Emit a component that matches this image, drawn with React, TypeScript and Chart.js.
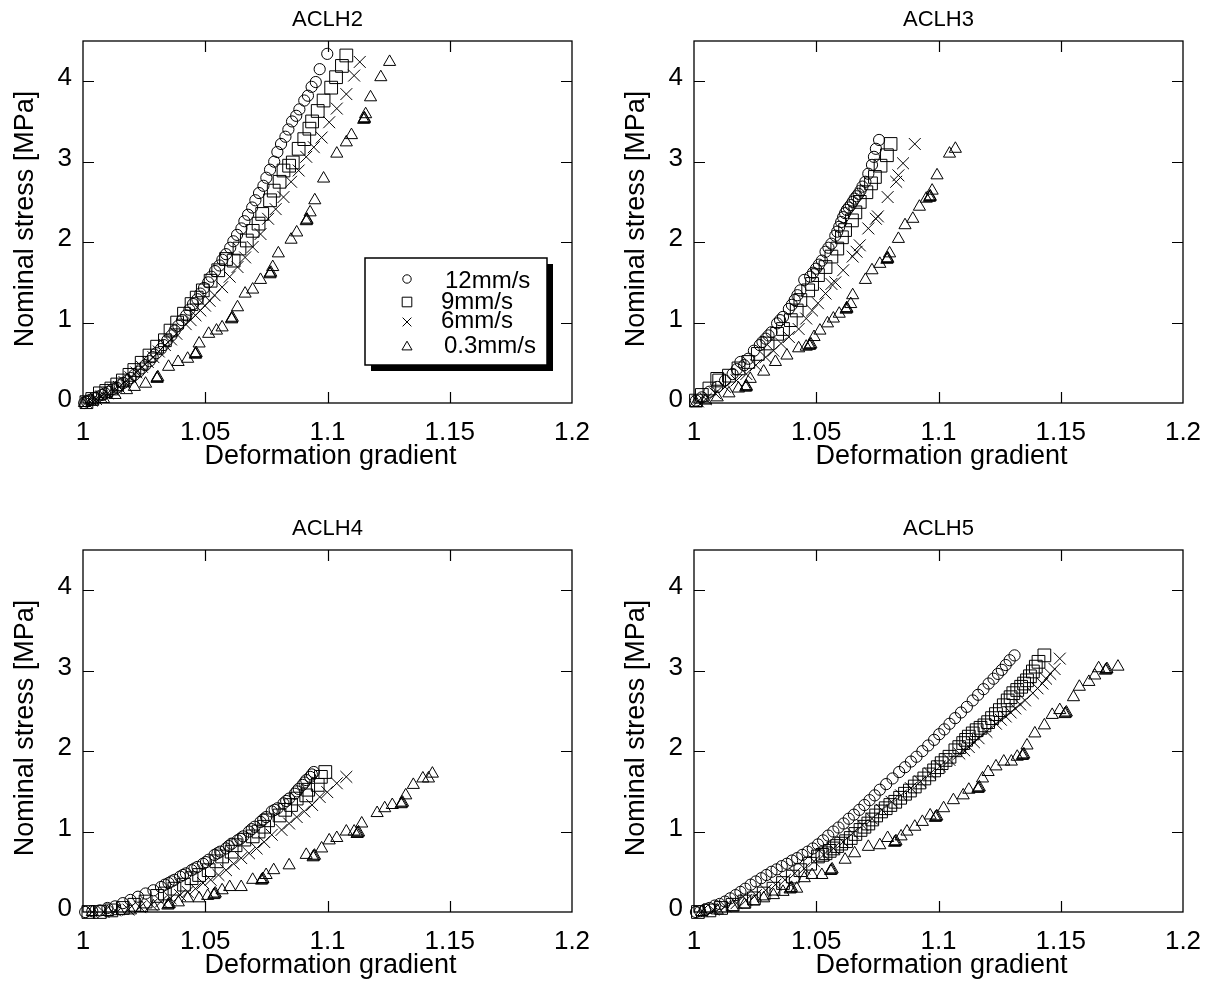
import React, { useEffect, useRef } from "react";
import { Chart, registerables } from "chart.js";

Chart.register(...registerables);

// ---------------- data ----------------
const PANEL_TITLES = ["ACLH2", "ACLH3", "ACLH4", "ACLH5"];
const SERIES_LABELS = ["12mm/s", "9mm/s", "6mm/s", "0.3mm/s"];
const X_TICKS = [1, 1.05, 1.1, 1.15, 1.2];
const Y_TICKS = [0, 1, 2, 3, 4];
const X_LABEL = "Deformation gradient";
const Y_LABEL = "Nominal stress [MPa]";

// ACLH2
const ACLH2_12 = [[1.0005,0.0],[1.0015,0.02],[1.003,0.04],[1.0045,0.06],[1.006,0.08],[1.0078,0.1],[1.009,0.12],[1.0105,0.14],[1.012,0.17],[1.0138,0.19],[1.015,0.22],[1.0165,0.25],[1.0182,0.28],[1.0195,0.31],[1.021,0.35],[1.0228,0.39],[1.024,0.43],[1.0255,0.47],[1.0272,0.52],[1.0285,0.57],[1.03,0.62],[1.0318,0.67],[1.033,0.72],[1.0345,0.78],[1.0362,0.84],[1.0375,0.9],[1.039,0.96],[1.0405,1.03],[1.0422,1.09],[1.0435,1.16],[1.045,1.23],[1.0468,1.29],[1.048,1.36],[1.0495,1.43],[1.0512,1.5],[1.0525,1.57],[1.054,1.64],[1.0558,1.71],[1.057,1.78],[1.0585,1.85],[1.0602,1.93],[1.0615,2.01],[1.063,2.09],[1.0648,2.17],[1.066,2.26],[1.0675,2.34],[1.0692,2.43],[1.0705,2.52],[1.072,2.61],[1.0738,2.7],[1.075,2.8],[1.0765,2.9],[1.0782,3.0],[1.0795,3.12],[1.081,3.22],[1.0828,3.31],[1.084,3.4],[1.0855,3.5],[1.0872,3.57],[1.0885,3.65],[1.0905,3.76],[1.092,3.82],[1.0935,3.93],[1.0952,3.99],[1.0968,4.15],[1.0999,4.34]];
const ACLH2_9 = [[1.0014,0.01],[1.0038,0.05],[1.0069,0.12],[1.0095,0.15],[1.0116,0.18],[1.014,0.23],[1.0163,0.28],[1.019,0.35],[1.021,0.41],[1.024,0.5],[1.0272,0.59],[1.0303,0.7],[1.0335,0.78],[1.0358,0.9],[1.0385,1.0],[1.0413,1.11],[1.0444,1.23],[1.0465,1.31],[1.049,1.4],[1.0522,1.52],[1.0553,1.65],[1.0585,1.79],[1.0616,1.77],[1.064,1.92],[1.067,2.02],[1.0694,2.14],[1.0718,2.23],[1.0733,2.35],[1.0765,2.52],[1.078,2.64],[1.0804,2.75],[1.082,2.89],[1.0843,2.95],[1.0858,2.99],[1.0882,3.16],[1.0905,3.28],[1.0926,3.41],[1.0937,3.5],[1.096,3.63],[1.0984,3.76],[1.1015,3.92],[1.1035,4.05],[1.1059,4.19],[1.1077,4.32]];
const ACLH2_6 = [[1.0014,0.01],[1.0035,0.03],[1.0053,0.05],[1.0075,0.08],[1.01,0.12],[1.0125,0.16],[1.0147,0.2],[1.017,0.26],[1.0194,0.32],[1.0218,0.38],[1.0241,0.45],[1.0265,0.51],[1.0288,0.57],[1.031,0.64],[1.0335,0.72],[1.036,0.79],[1.0382,0.86],[1.042,0.98],[1.044,1.03],[1.046,1.09],[1.048,1.15],[1.0499,1.21],[1.0518,1.27],[1.0538,1.34],[1.0569,1.44],[1.06,1.57],[1.0632,1.69],[1.0663,1.81],[1.0694,1.94],[1.0726,2.1],[1.0757,2.29],[1.0788,2.41],[1.082,2.56],[1.0851,2.75],[1.0882,2.89],[1.0913,3.06],[1.0944,3.18],[1.0976,3.3],[1.1007,3.49],[1.1038,3.66],[1.1077,3.84],[1.1109,4.07],[1.1132,4.24]];
const ACLH2_03 = [[1.0006,0.0],[1.0038,0.02],[1.0084,0.05],[1.0131,0.1],[1.0178,0.16],[1.021,0.2],[1.0256,0.24],[1.0303,0.3],[1.0303,0.31],[1.0306,0.32],[1.035,0.45],[1.0389,0.51],[1.0428,0.55],[1.046,0.6],[1.046,0.61],[1.0463,0.62],[1.0475,0.74],[1.0514,0.86],[1.0546,0.9],[1.0569,0.94],[1.0608,1.04],[1.0608,1.05],[1.0611,1.06],[1.0632,1.19],[1.0663,1.36],[1.0694,1.41],[1.0726,1.53],[1.0765,1.6],[1.0765,1.61],[1.0768,1.62],[1.0776,1.69],[1.0799,1.86],[1.0851,2.03],[1.0874,2.12],[1.0913,2.26],[1.0916,2.27],[1.0916,2.28],[1.0929,2.37],[1.0948,2.52],[1.0984,2.79],[1.1038,3.1],[1.1077,3.24],[1.1098,3.33],[1.1148,3.52],[1.1151,3.53],[1.1151,3.54],[1.1156,3.59],[1.1176,3.8],[1.1218,4.05],[1.1254,4.24]];

// ACLH3
const ACLH3_12 = [[1.0008,0.03],[1.0032,0.07],[1.0063,0.14],[1.0095,0.2],[1.0127,0.28],[1.0158,0.36],[1.0175,0.42],[1.019,0.51],[1.0205,0.47],[1.0222,0.55],[1.0245,0.65],[1.0269,0.72],[1.028,0.76],[1.0293,0.8],[1.0305,0.84],[1.0317,0.88],[1.034,0.99],[1.0352,1.03],[1.0364,1.07],[1.0388,1.17],[1.04,1.22],[1.0412,1.28],[1.0423,1.34],[1.0435,1.4],[1.0451,1.53],[1.0475,1.57],[1.0487,1.62],[1.0499,1.67],[1.0511,1.72],[1.0523,1.77],[1.0538,1.88],[1.055,1.93],[1.0562,1.98],[1.0578,2.08],[1.0586,2.13],[1.0594,2.19],[1.0602,2.25],[1.061,2.31],[1.0618,2.36],[1.0625,2.4],[1.0633,2.43],[1.0641,2.46],[1.0649,2.5],[1.0657,2.54],[1.0665,2.57],[1.0673,2.6],[1.0681,2.64],[1.0689,2.69],[1.0701,2.75],[1.0713,2.85],[1.0728,2.96],[1.0736,3.06],[1.0744,3.16],[1.0757,3.27]];
const ACLH3_9 = [[1.0008,0.03],[1.0032,0.1],[1.0063,0.18],[1.0095,0.3],[1.0103,0.28],[1.0143,0.34],[1.0182,0.43],[1.0222,0.51],[1.0261,0.61],[1.0301,0.74],[1.034,0.86],[1.0364,0.92],[1.0396,1.03],[1.042,1.15],[1.0435,1.28],[1.0467,1.4],[1.0483,1.48],[1.0507,1.59],[1.0538,1.69],[1.0562,1.82],[1.0586,1.92],[1.0605,2.06],[1.0618,2.15],[1.0646,2.27],[1.066,2.37],[1.0678,2.5],[1.0705,2.62],[1.0724,2.73],[1.074,2.81],[1.0763,2.95],[1.0789,3.08],[1.0804,3.22]];
const ACLH3_6 = [[1.0016,0.02],[1.0048,0.05],[1.0087,0.12],[1.0127,0.2],[1.0174,0.28],[1.0214,0.36],[1.0253,0.47],[1.0293,0.57],[1.0325,0.65],[1.0356,0.74],[1.0388,0.82],[1.0428,0.92],[1.0459,1.05],[1.0483,1.15],[1.0507,1.24],[1.0538,1.36],[1.0562,1.48],[1.0578,1.5],[1.061,1.65],[1.0649,1.82],[1.0665,1.88],[1.0678,1.96],[1.0713,2.17],[1.0744,2.29],[1.0752,2.32],[1.0792,2.56],[1.0827,2.75],[1.0836,2.83],[1.0855,2.98],[1.0903,3.22]];
const ACLH3_03 = [[1.0008,0.0],[1.0048,0.03],[1.0095,0.07],[1.0143,0.12],[1.0182,0.18],[1.0211,0.19],[1.0214,0.2],[1.0214,0.21],[1.023,0.3],[1.0285,0.39],[1.0333,0.51],[1.038,0.59],[1.0428,0.68],[1.0459,0.7],[1.0472,0.71],[1.0475,0.72],[1.0478,0.73],[1.0491,0.82],[1.0515,0.9],[1.0546,0.99],[1.057,1.05],[1.0594,1.11],[1.0622,1.16],[1.0625,1.17],[1.0625,1.18],[1.0641,1.23],[1.0649,1.34],[1.0701,1.53],[1.0728,1.65],[1.076,1.73],[1.0789,1.78],[1.0792,1.79],[1.0792,1.8],[1.08,1.86],[1.0836,2.04],[1.0863,2.21],[1.0895,2.29],[1.0922,2.44],[1.095,2.54],[1.0963,2.55],[1.0966,2.56],[1.0966,2.57],[1.0974,2.64],[1.0994,2.83],[1.1045,3.1],[1.1069,3.16]];

// ACLH4
const ACLH4_12 = [[1.0009,0.0],[1.0038,0.01],[1.0069,0.02],[1.01,0.05],[1.0131,0.07],[1.0163,0.11],[1.0194,0.15],[1.0225,0.19],[1.0256,0.23],[1.0288,0.27],[1.0319,0.31],[1.0335,0.34],[1.035,0.36],[1.0362,0.38],[1.0374,0.4],[1.0397,0.44],[1.0409,0.46],[1.0421,0.48],[1.0444,0.52],[1.0456,0.54],[1.0468,0.56],[1.0491,0.6],[1.0503,0.62],[1.0514,0.65],[1.0538,0.71],[1.055,0.73],[1.0561,0.75],[1.0585,0.79],[1.0596,0.82],[1.0608,0.85],[1.0632,0.89],[1.0643,0.91],[1.0655,0.94],[1.0679,1.0],[1.069,1.03],[1.0702,1.06],[1.0726,1.12],[1.0737,1.15],[1.0749,1.18],[1.0772,1.25],[1.0784,1.27],[1.0796,1.29],[1.082,1.35],[1.0831,1.38],[1.0843,1.41],[1.0866,1.47],[1.0874,1.5],[1.0882,1.53],[1.0898,1.58],[1.0906,1.61],[1.0913,1.64],[1.0929,1.68],[1.0936,1.71],[1.0944,1.74]];
const ACLH4_9 = [[1.0022,0.0],[1.0069,0.0],[1.0116,0.02],[1.0163,0.05],[1.021,0.09],[1.0256,0.13],[1.0303,0.2],[1.0335,0.23],[1.0374,0.29],[1.0413,0.34],[1.0444,0.42],[1.0475,0.46],[1.0514,0.52],[1.0546,0.63],[1.0569,0.69],[1.0608,0.75],[1.0624,0.83],[1.066,0.9],[1.0694,0.94],[1.0718,1.0],[1.0741,1.06],[1.0757,1.14],[1.0804,1.2],[1.0827,1.27],[1.0851,1.33],[1.0874,1.41],[1.0913,1.45],[1.0921,1.52],[1.096,1.58],[1.0973,1.68],[1.0991,1.74]];
const ACLH4_6 = [[1.0038,0.0],[1.0084,0.0],[1.0131,0.02],[1.0186,0.03],[1.0233,0.06],[1.028,0.09],[1.0319,0.13],[1.0358,0.17],[1.0397,0.21],[1.0428,0.25],[1.046,0.29],[1.0491,0.36],[1.0522,0.4],[1.0554,0.46],[1.0585,0.52],[1.0616,0.6],[1.0647,0.67],[1.0679,0.73],[1.071,0.79],[1.0741,0.87],[1.0772,0.96],[1.0812,1.02],[1.0843,1.1],[1.0874,1.18],[1.0905,1.25],[1.0937,1.33],[1.0968,1.43],[1.0999,1.49],[1.1038,1.6],[1.1077,1.68]];
const ACLH4_03 = [[1.0038,0.0],[1.01,0.0],[1.0147,0.01],[1.0194,0.02],[1.0241,0.05],[1.0288,0.07],[1.0347,0.08],[1.035,0.09],[1.0353,0.1],[1.039,0.12],[1.0428,0.17],[1.0475,0.17],[1.051,0.2],[1.0535,0.21],[1.0538,0.22],[1.0541,0.23],[1.0569,0.27],[1.06,0.31],[1.0647,0.31],[1.0694,0.4],[1.073,0.39],[1.0733,0.4],[1.0736,0.41],[1.0749,0.46],[1.078,0.52],[1.0843,0.58],[1.0913,0.71],[1.0941,0.68],[1.0944,0.69],[1.0947,0.7],[1.0976,0.79],[1.1007,0.89],[1.1038,0.92],[1.1077,1.0],[1.1109,1.0],[1.1121,0.97],[1.1124,0.98],[1.1127,0.99],[1.114,1.1],[1.1203,1.23],[1.1234,1.29],[1.1265,1.33],[1.1301,1.34],[1.1304,1.35],[1.1307,1.36],[1.132,1.45],[1.1351,1.58],[1.139,1.66],[1.1413,1.66],[1.1429,1.72]];

// ACLH5
const ACLH5_12 = [[1.0008,0.0],[1.0025,0.01],[1.0045,0.03],[1.0063,0.05],[1.0085,0.08],[1.0105,0.1],[1.0127,0.13],[1.0148,0.17],[1.017,0.21],[1.019,0.25],[1.021,0.29],[1.0232,0.34],[1.0253,0.38],[1.0275,0.42],[1.0296,0.46],[1.0317,0.5],[1.0338,0.53],[1.0359,0.57],[1.038,0.6],[1.0401,0.64],[1.0422,0.67],[1.0443,0.71],[1.0465,0.75],[1.0486,0.79],[1.0507,0.84],[1.0528,0.89],[1.0549,0.95],[1.057,1.0],[1.0591,1.05],[1.0612,1.1],[1.0633,1.16],[1.0654,1.21],[1.0676,1.27],[1.0697,1.33],[1.0718,1.39],[1.0739,1.45],[1.076,1.52],[1.0786,1.59],[1.0812,1.66],[1.0839,1.74],[1.0863,1.8],[1.0887,1.87],[1.091,1.93],[1.0934,2.0],[1.0958,2.07],[1.0982,2.14],[1.1003,2.21],[1.1024,2.27],[1.1045,2.34],[1.1068,2.41],[1.1092,2.48],[1.1116,2.55],[1.114,2.63],[1.1162,2.7],[1.1184,2.77],[1.1205,2.84],[1.1225,2.9],[1.1243,2.96],[1.1259,3.01],[1.1275,3.07],[1.1291,3.13],[1.1311,3.19]];
const ACLH5_9 = [[1.0016,0.0],[1.0063,0.02],[1.0111,0.05],[1.0158,0.09],[1.0206,0.13],[1.0245,0.17],[1.0285,0.23],[1.0325,0.29],[1.0364,0.36],[1.0404,0.44],[1.0435,0.52],[1.0475,0.6],[1.0507,0.69],[1.0525,0.71],[1.0538,0.73],[1.0555,0.76],[1.057,0.79],[1.0585,0.82],[1.0602,0.85],[1.0622,0.88],[1.0641,0.92],[1.066,0.97],[1.0681,1.02],[1.0697,1.06],[1.0713,1.1],[1.0729,1.15],[1.0745,1.2],[1.0765,1.25],[1.0784,1.29],[1.0803,1.33],[1.0823,1.37],[1.0843,1.42],[1.0863,1.47],[1.0883,1.51],[1.0903,1.56],[1.0922,1.61],[1.0942,1.66],[1.0962,1.71],[1.0982,1.76],[1.0997,1.8],[1.1013,1.85],[1.1029,1.89],[1.1045,1.93],[1.1069,2.01],[1.1085,2.05],[1.1101,2.1],[1.1113,2.14],[1.1124,2.18],[1.114,2.22],[1.1156,2.26],[1.1172,2.29],[1.1188,2.32],[1.1203,2.36],[1.1219,2.41],[1.1235,2.46],[1.1251,2.51],[1.1267,2.57],[1.1283,2.63],[1.1295,2.67],[1.1306,2.72],[1.1322,2.76],[1.1338,2.8],[1.135,2.84],[1.1362,2.88],[1.1374,2.93],[1.1386,2.99],[1.1398,3.05],[1.1409,3.11],[1.1433,3.19]];
const ACLH5_6 = [[1.0032,0.01],[1.0079,0.03],[1.0127,0.07],[1.0174,0.11],[1.0214,0.15],[1.0253,0.21],[1.0293,0.27],[1.0333,0.34],[1.0372,0.4],[1.0412,0.48],[1.0451,0.54],[1.0491,0.63],[1.053,0.71],[1.057,0.79],[1.061,0.87],[1.0649,0.98],[1.0689,1.08],[1.0728,1.16],[1.0768,1.27],[1.0808,1.37],[1.0847,1.45],[1.0887,1.54],[1.0926,1.62],[1.0966,1.72],[1.1006,1.81],[1.1045,1.89],[1.1085,1.97],[1.1105,2.01],[1.1124,2.05],[1.1145,2.11],[1.1164,2.16],[1.1196,2.24],[1.1235,2.34],[1.1255,2.39],[1.1275,2.43],[1.1295,2.48],[1.1314,2.53],[1.1334,2.58],[1.1354,2.63],[1.1386,2.72],[1.1405,2.78],[1.1425,2.84],[1.144,2.9],[1.1457,2.96],[1.1475,3.02],[1.1496,3.15]];
const ACLH5_03 = [[1.0032,0.0],[1.0095,0.02],[1.0158,0.06],[1.0206,0.09],[1.0245,0.13],[1.0285,0.17],[1.0325,0.21],[1.0364,0.25],[1.0393,0.28],[1.0396,0.29],[1.0399,0.3],[1.042,0.29],[1.0451,0.42],[1.0483,0.46],[1.0523,0.46],[1.0559,0.51],[1.0562,0.52],[1.0565,0.53],[1.0618,0.65],[1.0657,0.73],[1.0713,0.81],[1.076,0.83],[1.0792,0.92],[1.082,0.86],[1.0823,0.87],[1.0826,0.88],[1.0847,0.94],[1.0871,1.0],[1.0903,1.06],[1.0934,1.12],[1.0966,1.2],[1.0987,1.17],[1.099,1.18],[1.0993,1.19],[1.1021,1.29],[1.1061,1.39],[1.1101,1.45],[1.1124,1.52],[1.1161,1.53],[1.1164,1.54],[1.1167,1.55],[1.118,1.66],[1.1203,1.74],[1.1235,1.81],[1.1267,1.87],[1.1298,1.87],[1.1322,1.93],[1.1343,1.94],[1.1346,1.95],[1.1349,1.96],[1.1362,2.07],[1.1394,2.22],[1.1433,2.32],[1.1465,2.45],[1.1496,2.51],[1.1517,2.46],[1.152,2.47],[1.1523,2.48],[1.1552,2.67],[1.1576,2.8],[1.1615,2.86],[1.1639,2.94],[1.1655,3.03],[1.1683,3.0],[1.1686,3.01],[1.1689,3.02],[1.1734,3.05]];

const PANEL_SERIES = [
  [ACLH2_12, ACLH2_9, ACLH2_6, ACLH2_03],
  [ACLH3_12, ACLH3_9, ACLH3_6, ACLH3_03],
  [ACLH4_12, ACLH4_9, ACLH4_6, ACLH4_03],
  [ACLH5_12, ACLH5_9, ACLH5_6, ACLH5_03],
];

// ---------------- styling / layout ----------------
const FONT = '"Liberation Sans", Arial, Helvetica, sans-serif';
const POINT_STYLES = ["circle", "rect", "crossRot", "triangle"];
const POINT_RADII = [5.6, 9, 8.4, 7];
const LEGEND_RADII = [4.2, 6.8, 6.2, 5.8];
const TICK_LEN = 11;

const PANELS = [
  { left: 0, top: 0, width: 604, height: 490, pad: { left: 83, top: 41, right: 32, bottom: 87 } },
  { left: 604, top: 0, width: 605, height: 490, pad: { left: 90, top: 41, right: 26, bottom: 87 } },
  { left: 0, top: 490, width: 604, height: 491, pad: { left: 83, top: 60, right: 32, bottom: 69 } },
  { left: 604, top: 490, width: 605, height: 491, pad: { left: 90, top: 60, right: 26, bottom: 69 } },
];

const LEGEND_BOX = { x: 365, y: 258, w: 182, h: 107, shadow: 6 };
const LEGEND_MARKER_X = 407;
const LEGEND_MARKER_Y = [279, 302, 322, 347];
const LEGEND_TEXT_X = [445, 441, 441, 444];
const LEGEND_TEXT_Y = [288, 309, 328, 353];

function drawMarker(ctx: CanvasRenderingContext2D, style: string, x: number, y: number, r: number) {
  ctx.beginPath();
  if (style === "circle") {
    ctx.arc(x, y, r, 0, Math.PI * 2);
  } else if (style === "rect") {
    const s = r * Math.SQRT1_2;
    ctx.rect(x - s, y - s, 2 * s, 2 * s);
  } else if (style === "crossRot") {
    const d = r * Math.SQRT1_2;
    ctx.moveTo(x - d, y - d);
    ctx.lineTo(x + d, y + d);
    ctx.moveTo(x + d, y - d);
    ctx.lineTo(x - d, y + d);
  } else {
    ctx.moveTo(x, y - r);
    ctx.lineTo(x + r * 0.866, y + r * 0.5);
    ctx.lineTo(x - r * 0.866, y + r * 0.5);
    ctx.closePath();
  }
  ctx.stroke();
}

const framePlugin = {
  id: "frame",
  beforeDatasetsDraw(chart: any) {
    const { ctx, chartArea: a, scales } = chart;
    ctx.save();
    ctx.strokeStyle = "#000";
    ctx.lineWidth = 1.3;
    ctx.strokeRect(a.left, a.top, a.right - a.left, a.bottom - a.top);
    ctx.lineWidth = 1.2;
    ctx.beginPath();
    scales.x.ticks.forEach((t: any) => {
      if (t.value <= X_TICKS[0] || t.value >= X_TICKS[X_TICKS.length - 1]) return;
      const px = Math.round(scales.x.getPixelForValue(t.value)) + 0.5;
      ctx.moveTo(px, a.top);
      ctx.lineTo(px, a.top + TICK_LEN);
      ctx.moveTo(px, a.bottom);
      ctx.lineTo(px, a.bottom - TICK_LEN);
    });
    scales.y.ticks.forEach((t: any) => {
      if (t.value <= Y_TICKS[0]) return;
      const py = Math.round(scales.y.getPixelForValue(t.value)) + 0.5;
      ctx.moveTo(a.left, py);
      ctx.lineTo(a.left + TICK_LEN, py);
      ctx.moveTo(a.right, py);
      ctx.lineTo(a.right - TICK_LEN, py);
    });
    ctx.stroke();
    ctx.restore();
  },
  afterDraw(chart: any, _args: any, opts: any) {
    const { ctx, chartArea: a, scales } = chart;
    const cx = (a.left + a.right) / 2;
    const cy = (a.top + a.bottom) / 2;
    ctx.save();
    ctx.fillStyle = "#000";
    // tick labels
    ctx.font = `26px ${FONT}`;
    ctx.textBaseline = "alphabetic";
    ctx.textAlign = "center";
    scales.x.ticks.forEach((t: any) => {
      ctx.fillText(String(t.value), scales.x.getPixelForValue(t.value), a.bottom + 37);
    });
    ctx.textAlign = "right";
    scales.y.ticks.forEach((t: any) => {
      ctx.fillText(String(t.value), a.left - 11, scales.y.getPixelForValue(t.value) + 4);
    });
    // title
    ctx.textAlign = "center";
    ctx.font = `22px ${FONT}`;
    ctx.fillText(opts.title, cx, a.top - 15);
    // axis titles
    ctx.font = `27px ${FONT}`;
    ctx.fillText(X_LABEL, cx + 3, a.bottom + 61);
    ctx.save();
    ctx.translate(a.left - 50, cy - 3);
    ctx.rotate(-Math.PI / 2);
    ctx.fillText(Y_LABEL, 0, 0);
    ctx.restore();
    // legend
    if (opts.legend) {
      const b = LEGEND_BOX;
      ctx.fillStyle = "#000";
      ctx.fillRect(b.x + b.shadow, b.y + b.shadow, b.w, b.h);
      ctx.fillStyle = "#fff";
      ctx.fillRect(b.x, b.y, b.w, b.h);
      ctx.strokeStyle = "#000";
      ctx.lineWidth = 1.5;
      ctx.strokeRect(b.x, b.y, b.w, b.h);
      ctx.lineWidth = 1;
      SERIES_LABELS.forEach((lab, i) => {
        drawMarker(ctx, POINT_STYLES[i], LEGEND_MARKER_X, LEGEND_MARKER_Y[i], LEGEND_RADII[i]);
        ctx.fillStyle = "#000";
        ctx.font = `24px ${FONT}`;
        ctx.textAlign = "left";
        ctx.fillText(lab, LEGEND_TEXT_X[i], LEGEND_TEXT_Y[i]);
      });
    }
    ctx.restore();
  },
};

function Panel({ index }: { index: number }) {
  const ref = useRef<HTMLCanvasElement | null>(null);
  const p = PANELS[index];
  useEffect(() => {
    if (!ref.current) return;
    const chart = new Chart(ref.current, {
      type: "scatter",
      data: {
        datasets: PANEL_SERIES[index].map((pts, i) => ({
          label: SERIES_LABELS[i],
          data: pts.map(([x, y]) => ({ x, y })),
          pointStyle: POINT_STYLES[i] as any,
          pointRadius: POINT_RADII[i],
          borderColor: "#000",
          backgroundColor: "rgba(0,0,0,0)",
          borderWidth: 1,
          showLine: false,
          clip: false as any,
        })),
      },
      options: {
        animation: false,
        responsive: false,
        devicePixelRatio: 1,
        events: [],
        layout: { padding: p.pad, autoPadding: false } as any,
        plugins: {
          legend: { display: false },
          tooltip: { enabled: false },
          title: { display: false },
          frame: { title: PANEL_TITLES[index], legend: index === 0 },
        } as any,
        scales: {
          x: {
            type: "linear",
            min: X_TICKS[0],
            max: X_TICKS[X_TICKS.length - 1],
            afterBuildTicks: (s: any) => {
              s.ticks = X_TICKS.map((v) => ({ value: v }));
            },
            afterFit: (s: any) => {
              s.height = 0;
            },
            grid: { display: false, drawTicks: false },
            border: { display: false },
            ticks: { display: false },
          },
          y: {
            type: "linear",
            min: 0,
            max: 4.5,
            afterBuildTicks: (s: any) => {
              s.ticks = Y_TICKS.map((v) => ({ value: v }));
            },
            afterFit: (s: any) => {
              s.width = 0;
            },
            grid: { display: false, drawTicks: false },
            border: { display: false },
            ticks: { display: false },
          },
        },
      },
      plugins: [framePlugin as any],
    });
    return () => chart.destroy();
  }, [index]);
  return (
    <canvas
      ref={ref}
      width={p.width}
      height={p.height}
      style={{ position: "absolute", left: p.left, top: p.top, width: p.width, height: p.height, display: "block" }}
    />
  );
}

export default function App() {
  return (
    <div style={{ position: "absolute", left: 0, top: 0, width: 1209, height: 981, background: "#fff", overflow: "hidden" }}>
      {PANELS.map((_, i) => (
        <Panel key={i} index={i} />
      ))}
    </div>
  );
}
